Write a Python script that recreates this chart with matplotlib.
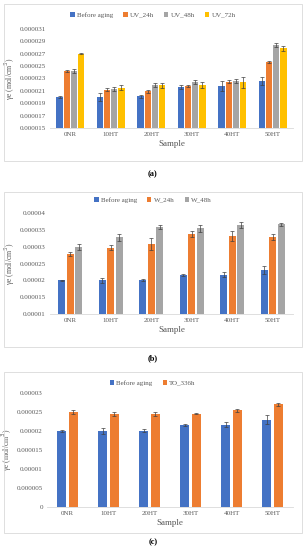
import numpy as np
import matplotlib
matplotlib.use("Agg")
import matplotlib.pyplot as plt
from matplotlib.patches import Rectangle

plt.rcParams['font.family'] = ['Liberation Serif', 'DejaVu Serif']

samples = ["0NR", "10HT", "20HT", "30HT", "40HT", "50HT"]

# panel (a) UV aging
uv_names = ["Before aging", "UV_24h", "UV_48h", "UV_72h"]
uv_before = [0.0000200, 0.0000200, 0.0000201, 0.0000216, 0.0000218, 0.0000226]
uv_24 = [0.0000242, 0.0000212, 0.0000209, 0.0000218, 0.0000225, 0.0000257]
uv_48 = [0.0000242, 0.0000213, 0.0000219, 0.0000224, 0.0000226, 0.0000284]
uv_72 = [0.0000270, 0.0000215, 0.0000219, 0.0000220, 0.0000224, 0.0000279]
uv_err_before = [0.0000002, 0.0000007, 0.0000003, 0.0000003, 0.0000008, 0.0000006]
uv_err_24 = [0.0000002, 0.0000002, 0.0000002, 0.0000002, 0.0000002, 0.0000002]
uv_err_48 = [0.0000003, 0.0000003, 0.0000003, 0.0000003, 0.0000003, 0.0000003]
uv_err_72 = [0.0000001, 0.0000004, 0.0000004, 0.0000005, 0.0000009, 0.0000004]

# panel (b) water aging
w_names = ["Before aging", "W_24h", "W_48h"]
w_before = [0.0000200, 0.0000200, 0.0000201, 0.0000215, 0.0000217, 0.0000230]
w_24 = [0.0000278, 0.0000297, 0.0000309, 0.0000338, 0.0000332, 0.0000329]
w_48 = [0.0000299, 0.0000328, 0.0000358, 0.0000355, 0.0000364, 0.0000366]
w_err_before = [0.0000002, 0.0000007, 0.0000003, 0.0000003, 0.0000007, 0.0000012]
w_err_24 = [0.0000006, 0.0000008, 0.0000018, 0.0000008, 0.0000014, 0.0000008]
w_err_48 = [0.0000008, 0.0000010, 0.0000006, 0.0000010, 0.0000010, 0.0000005]

# panel (c) thermo-oxidative aging
to_names = ["Before aging", "TO_336h"]
to_before = [0.0000200, 0.0000200, 0.0000201, 0.0000215, 0.0000217, 0.0000230]
to_336 = [0.0000251, 0.0000245, 0.0000245, 0.0000246, 0.0000255, 0.0000270]
to_err_before = [0.0000002, 0.0000007, 0.0000003, 0.0000003, 0.0000007, 0.0000012]
to_err_336 = [0.0000005, 0.0000006, 0.0000006, 0.0000001, 0.0000004, 0.0000005]

blue = "#4472C4"
orange = "#ED7D31"
gray = "#A5A5A5"
yellow = "#FFC000"

W, H = 306, 550
fig = plt.figure(figsize=(W/100, H/100), dpi=100)


def fy(y):
    return 1 - y/H


def frame(top, bottom):
    fig.patches.append(Rectangle((4/W, fy(bottom)), 298/W, (bottom-top)/H,
                                 transform=fig.transFigure, fill=False,
                                 edgecolor="#d9d9d9", linewidth=0.6))


def panel(left, top, bottom, series, errs, names, colors, width, step,
          ylim, yticks, fmt, legy, label, labely):
    ax = fig.add_axes([left/W, fy(bottom), (293-left)/W, (bottom-top)/H])
    x = np.arange(len(samples))
    n = len(series)
    for i in range(n):
        off = (i - (n-1)/2)*step
        ax.bar(x + off, series[i], width, color=colors[i], label=names[i],
               yerr=errs[i], error_kw=dict(ecolor="#404040", elinewidth=0.5,
                                           capsize=1.2, capthick=0.5))
    ax.set_xlim(-0.5, len(samples)-0.5)
    ax.set_ylim(*ylim)
    ax.set_yticks(yticks)
    ax.set_yticklabels([fmt(v) for v in yticks])
    ax.set_xticks(x)
    ax.set_xticklabels(samples)
    for s in ["top", "right", "left"]:
        ax.spines[s].set_visible(False)
    ax.spines["bottom"].set_color("#d9d9d9")
    ax.spines["bottom"].set_linewidth(0.6)
    ax.tick_params(length=0, labelsize=5, colors="#595959", pad=3)
    ax.set_xlabel("Sample", fontsize=6.5, color="#595959", labelpad=2)
    ax.set_ylabel("γe (mol/cm$^3$)", fontsize=5.5, color="#595959", labelpad=2)
    ax.legend(loc="center", bbox_to_anchor=(0.5, fy(legy)),
              bbox_transform=fig.transFigure, ncol=n, fontsize=5,
              frameon=False, handlelength=0.6, handleheight=0.6,
              handletextpad=0.3, columnspacing=1.5, labelcolor="#595959")
    fig.text(0.5, fy(labely), label, ha="center", va="center",
             fontsize=6, fontweight="bold")
    return ax


frame(4, 161)
panel(50, 29, 128, [uv_before, uv_24, uv_48, uv_72],
      [uv_err_before, uv_err_24, uv_err_48, uv_err_72],
      uv_names, [blue, orange, gray, yellow], 0.155, 0.175,
      (0.000015, 0.000031),
      [0.000015, 0.000017, 0.000019, 0.000021, 0.000023, 0.000025,
       0.000027, 0.000029, 0.000031],
      lambda v: "%.6f" % v, 15, "(a)", 174)

frame(192, 347)
panel(50, 213, 314, [w_before, w_24, w_48],
      [w_err_before, w_err_24, w_err_48],
      w_names, [blue, orange, gray], 0.17, 0.21,
      (0.00001, 0.00004),
      [0.00001, 0.000015, 0.00002, 0.000025, 0.00003, 0.000035, 0.00004],
      lambda v: ("%.6f" % v).rstrip("0"), 200, "(b)", 358)

frame(372, 533)
panel(47, 393, 507, [to_before, to_336],
      [to_err_before, to_err_336],
      to_names, [blue, orange], 0.22, 0.29,
      (0, 0.00003),
      [0, 0.000005, 0.00001, 0.000015, 0.00002, 0.000025, 0.00003],
      lambda v: "0" if v == 0 else ("%.6f" % v).rstrip("0"), 383, "(c)", 542)

fig.savefig("out.png", dpi=100)
